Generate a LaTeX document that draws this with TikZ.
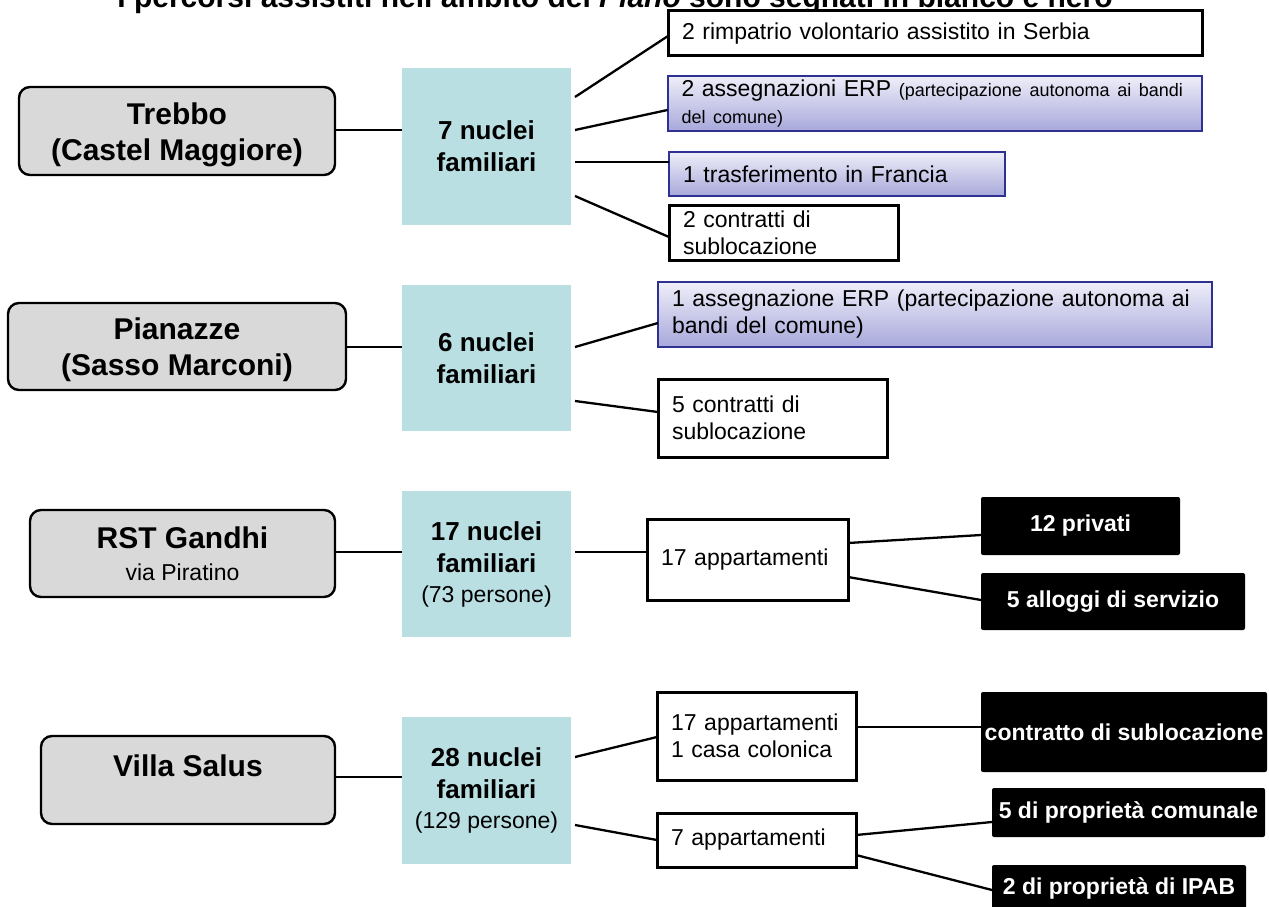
\documentclass[tikz,border=0pt]{standalone}
\usepackage{fontspec}
\setmainfont{Liberation Sans}
\usetikzlibrary{calc}
\definecolor{lgray}{HTML}{D9D9D9}
\definecolor{tealc}{HTML}{B9DFE3}
\definecolor{navyc}{HTML}{2E3192}
\definecolor{lavtop}{HTML}{EEEEF9}
\definecolor{lavbot}{HTML}{A8A8DB}
\begin{document}
\begin{tikzpicture}[x=1pt,y=-1pt,
  every node/.style={inner sep=0pt,outer sep=0pt},
  lbox/.style={draw=black,line width=2.4pt,fill=lgray,rounded corners=11pt,align=center,
    font=\fontsize{30}{36}\selectfont\bfseries},
  tbox/.style={fill=tealc,align=center,font=\fontsize{26}{32}\selectfont\bfseries},
  wbox/.style={draw=black,line width=3pt,fill=white,align=left,inner xsep=14pt,
    font=\fontsize{23}{27}\selectfont},
  pbox/.style={draw=navyc,line width=2pt,top color=lavtop,bottom color=lavbot,align=left,inner xsep=14pt,
    font=\fontsize{23}{27}\selectfont},
  bbox/.style={fill=black,text=white,rounded corners=2pt,align=center,
    font=\fontsize{23}{27}\selectfont\bfseries},
  conn/.style={draw=black,line width=2.3pt}]
\useasboundingbox (0,0) rectangle (1269,907);
\clip (0,0) rectangle (1269,907);

% title (cut off at top, as in the reference)
\node[anchor=base,font=\fontsize{30}{36}\selectfont\bfseries] (title) at (615,8)
  {I percorsi assistiti nell'ambito del \textit{Piano} sono segnati in bianco e nero};

% left boxes
\node[lbox,minimum width=316pt,minimum height=88pt] (trebbo) at (177,131) {\mbox{}\\[-6pt]Trebbo\\(Castel Maggiore)};
\node[lbox,minimum width=338pt,minimum height=87pt] (pianazze) at (177,346.5) {\mbox{}\\[-7pt]Pianazze\\(Sasso Marconi)};
\node[lbox,minimum width=305pt,minimum height=87pt] (rst) at (182.5,553.5) {RST Gandhi\\[-4pt]{\fontsize{23}{27}\selectfont\mdseries via Piratino}};
\node[lbox,minimum width=294pt,minimum height=88pt] (villa) at (188,780) {Villa Salus\\[-8pt]\mbox{}};

% teal boxes
\node[tbox,minimum width=169pt,minimum height=157pt] (t1) at (486.5,146.5) {7 nuclei\\familiari};
\node[tbox,minimum width=169pt,minimum height=146pt] (t2) at (486.5,358) {6 nuclei\\familiari};
\node[tbox,minimum width=169pt,minimum height=146pt] (t3) at (486.5,564) {17 nuclei\\familiari\\[-2pt]{\fontsize{23}{27}\selectfont\mdseries (73 persone)}};
\node[tbox,minimum width=169pt,minimum height=147pt] (t4) at (486.5,790.5) {28 nuclei\\familiari\\[-2pt]{\fontsize{23}{27}\selectfont\mdseries (129 persone)}};

% Trebbo outcomes
\node[wbox,text width=506pt,minimum height=45pt] (a) at (935,33.5) {2 rimpatrio volontario assistito in Serbia};
\node[pbox,text width=506pt,minimum height=55pt] (b) at (934.5,103.5)
  {\mbox{2 assegnazioni ERP {\fontsize{18}{24}\selectfont (partecipazione autonoma ai bandi}}\\{\fontsize{18}{24}\selectfont del comune)}};
\node[pbox,text width=308pt,minimum height=44pt] (c) at (837,174) {1 trasferimento in Francia};
\node[wbox,text width=201pt,minimum height=55pt] (d) at (783.5,232.5) {2 contratti di\\sublocazione};

% Pianazze outcomes
\node[pbox,text width=526pt,minimum height=65pt] (e) at (935,314.5) {1 assegnazione ERP (partecipazione autonoma ai\\bandi del comune)};
\node[wbox,text width=201pt,minimum height=78pt] (f) at (772.5,418) {5 contratti di\\sublocazione};

% RST outcomes
\node[wbox,text width=173pt,minimum height=81pt] (g) at (747.5,559.5) {17 appartamenti};
\node[bbox,minimum width=199pt,minimum height=58pt] (h) at (1080.5,526) {12 privati};
\node[bbox,minimum width=264pt,minimum height=57pt] (i) at (1113,601.5) {5 alloggi di servizio};

% Villa Salus outcomes
\node[wbox,text width=171pt,minimum height=88pt] (j) at (756.5,736) {17 appartamenti\\1 casa colonica};
\node[bbox,minimum width=286pt,minimum height=80pt] (k) at (1124,732) {contratto di sublocazione};
\node[wbox,text width=171pt,minimum height=54pt] (l) at (756.5,840) {7 appartamenti};
\node[bbox,minimum width=273pt,minimum height=49pt] (m) at (1128.5,812.5) {5 di proprietà comunale};
\node[bbox,minimum width=254pt,minimum height=46pt] (n) at (1119,888) {2 di proprietà di IPAB};

% connectors left -> teal
\draw[conn] (trebbo.east |- 0,130) -- (t1.west |- 0,130);
\draw[conn] (pianazze.east |- 0,347) -- (t2.west |- 0,347);
\draw[conn] (rst.east |- 0,552) -- (t3.west |- 0,552);
\draw[conn] (villa.east |- 0,777) -- (t4.west |- 0,777);

% teal -> outcomes
\draw[conn] ($(t1.north east)+(4,29)$) -- ($(a.north west)+(0,25)$);
\draw[conn] ($(t1.north east)+(4,62)$) -- ($(b.north west)+(0,34)$);
\draw[conn] ($(t1.north east)+(4,94)$) -- ($(c.north west)+(0,10)$);
\draw[conn] ($(t1.north east)+(4,128)$) -- ($(d.north west)+(0,32)$);
\draw[conn] ($(t2.north east)+(4,62)$) -- ($(e.north west)+(0,41)$);
\draw[conn] ($(t2.north east)+(4,116)$) -- ($(f.north west)+(0,33)$);
\draw[conn] ($(t3.north east)+(4,61)$) -- (g.west |- 0,552);
\draw[conn] ($(t4.north east)+(4,40)$) -- ($(j.north west)+(0,45)$);
\draw[conn] ($(t4.north east)+(4,108)$) -- ($(l.north west)+(0,27)$);

% second level
\draw[conn] ($(g.north east)+(0,24)$) -- ($(h.north west)+(0,38)$);
\draw[conn] ($(g.north east)+(0,58)$) -- ($(i.north west)+(0,27)$);
\draw[conn] (j.east |- 0,727) -- (k.west |- 0,727);
\draw[conn] ($(l.north east)+(0,22)$) -- ($(m.north west)+(0,34)$);
\draw[conn] ($(l.north east)+(0,42)$) -- ($(n.north west)+(0,25)$);
\end{tikzpicture}
\end{document}
